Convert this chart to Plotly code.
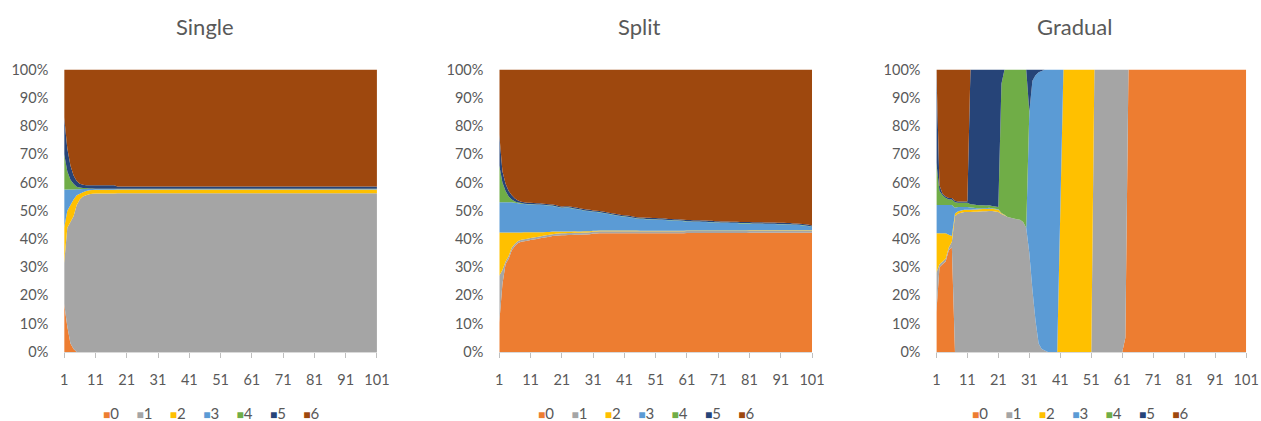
import plotly.graph_objects as go

# Generation index on the category axis
steps = list(range(1, 102))
tick_steps = [1, 11, 21, 31, 41, 51, 61, 71, 81, 91, 101]
pct_ticks = [0, 10, 20, 30, 40, 50, 60, 70, 80, 90, 100]
pct_labels = ["0%", "10%", "20%", "30%", "40%", "50%", "60%", "70%", "80%", "90%", "100%"]

series_names = ["0", "1", "2", "3", "4", "5", "6"]
series_colors = ["#ED7D31", "#A5A5A5", "#FFC000", "#5B9BD5", "#70AD47", "#264478", "#9E480E"]
panel_titles = ["Single", "Split", "Gradual"]

# ---------------- Single ----------------
single_0 = [17, 9, 3, 1, 0, 0, 0, 0, 0, 0,
            0, 0, 0, 0, 0, 0, 0, 0, 0, 0,
            0, 0, 0, 0, 0, 0, 0, 0, 0, 0,
            0, 0, 0, 0, 0, 0, 0, 0, 0, 0,
            0, 0, 0, 0, 0, 0, 0, 0, 0, 0,
            0, 0, 0, 0, 0, 0, 0, 0, 0, 0,
            0, 0, 0, 0, 0, 0, 0, 0, 0, 0,
            0, 0, 0, 0, 0, 0, 0, 0, 0, 0,
            0, 0, 0, 0, 0, 0, 0, 0, 0, 0,
            0, 0, 0, 0, 0, 0, 0, 0, 0, 0,
            0]
single_1 = [14.5, 35, 43, 47, 52, 54, 55, 55.5, 55.8, 56,
            56.1, 56.1, 56.1, 56.1, 56.1, 56.1, 56.1, 56.2, 56.2, 56.2,
            56.2, 56.2, 56.2, 56.2, 56.2, 56.2, 56.2, 56.2, 56.2, 56.2,
            56.2, 56.2, 56.2, 56.2, 56.2, 56.2, 56.2, 56.2, 56.2, 56.2,
            56.2, 56.2, 56.2, 56.2, 56.2, 56.2, 56.2, 56.2, 56.2, 56.2,
            56.2, 56.2, 56.2, 56.2, 56.2, 56.2, 56.2, 56.2, 56.2, 56.2,
            56.2, 56.2, 56.2, 56.2, 56.2, 56.2, 56.2, 56.2, 56.2, 56.2,
            56.2, 56.2, 56.2, 56.2, 56.2, 56.2, 56.2, 56.2, 56.2, 56.2,
            56.2, 56.2, 56.2, 56.2, 56.2, 56.2, 56.2, 56.2, 56.2, 56.2,
            56.2, 56.2, 56.2, 56.2, 56.2, 56.2, 56.2, 56.2, 56.2, 56.2,
            56.2]
single_2 = [12.5, 6, 6, 6, 3.5, 2, 1.5, 1.5, 1.4, 1.3,
            1.3, 1.3, 1.3, 1.3, 1.3, 1.3, 1.3, 1.3, 1.3, 1.3,
            1.3, 1.3, 1.3, 1.3, 1.3, 1.3, 1.3, 1.3, 1.3, 1.3,
            1.3, 1.3, 1.3, 1.3, 1.3, 1.3, 1.3, 1.3, 1.3, 1.3,
            1.3, 1.3, 1.3, 1.3, 1.3, 1.3, 1.3, 1.3, 1.3, 1.3,
            1.3, 1.3, 1.3, 1.3, 1.3, 1.3, 1.3, 1.3, 1.3, 1.3,
            1.3, 1.3, 1.3, 1.3, 1.3, 1.3, 1.3, 1.3, 1.3, 1.3,
            1.3, 1.3, 1.3, 1.3, 1.3, 1.3, 1.3, 1.3, 1.3, 1.3,
            1.3, 1.3, 1.3, 1.3, 1.3, 1.3, 1.3, 1.3, 1.3, 1.3,
            1.3, 1.3, 1.3, 1.3, 1.3, 1.3, 1.3, 1.3, 1.3, 1.3,
            1.3]
single_3 = [13.5, 7.5, 5.5, 3.5, 2.1, 1.6, 1.2, 0.7, 0.5, 0.4,
            0.3, 0.3, 0.3, 0.3, 0.3, 0.3, 0.3, 0.2, 0.2, 0.2,
            0.2, 0.2, 0.2, 0.2, 0.2, 0.2, 0.2, 0.2, 0.2, 0.2,
            0.2, 0.2, 0.2, 0.2, 0.2, 0.2, 0.2, 0.2, 0.2, 0.2,
            0.2, 0.2, 0.2, 0.2, 0.2, 0.2, 0.2, 0.2, 0.2, 0.2,
            0.2, 0.2, 0.2, 0.2, 0.2, 0.2, 0.2, 0.2, 0.2, 0.2,
            0.2, 0.2, 0.2, 0.2, 0.2, 0.2, 0.2, 0.2, 0.2, 0.2,
            0.2, 0.2, 0.2, 0.2, 0.2, 0.2, 0.2, 0.2, 0.2, 0.2,
            0.2, 0.2, 0.2, 0.2, 0.2, 0.2, 0.2, 0.2, 0.2, 0.2,
            0.2, 0.2, 0.2, 0.2, 0.2, 0.2, 0.2, 0.2, 0.2, 0.2,
            0.2]
single_4 = [12.5, 6.5, 3.5, 2, 0.9, 0.6, 0.3, 0.3, 0.2, 0.2,
            0.1, 0.1, 0.1, 0.1, 0.1, 0.1, 0.1, 0.1, 0.1, 0.1,
            0.1, 0.1, 0.1, 0.1, 0.1, 0.1, 0.1, 0.1, 0.1, 0.1,
            0.1, 0.1, 0.1, 0.1, 0.1, 0.1, 0.1, 0.1, 0.1, 0.1,
            0.1, 0.1, 0.1, 0.1, 0.1, 0.1, 0.1, 0.1, 0.1, 0.1,
            0.1, 0.1, 0.1, 0.1, 0.1, 0.1, 0.1, 0.1, 0.1, 0.1,
            0.1, 0.1, 0.1, 0.1, 0.1, 0.1, 0.1, 0.1, 0.1, 0.1,
            0.1, 0.1, 0.1, 0.1, 0.1, 0.1, 0.1, 0.1, 0.1, 0.1,
            0.1, 0.1, 0.1, 0.1, 0.1, 0.1, 0.1, 0.1, 0.1, 0.1,
            0.1, 0.1, 0.1, 0.1, 0.1, 0.1, 0.1, 0.1, 0.1, 0.1,
            0.1]
single_5 = [13, 8, 5, 3, 2, 1.3, 1.2, 1, 1.1, 1.1,
            1.2, 1.2, 1.2, 1.2, 1.2, 1.2, 1.2, 0.8, 0.8, 0.8,
            0.8, 0.8, 0.8, 0.8, 0.8, 0.8, 0.8, 0.8, 0.8, 0.8,
            0.8, 0.8, 0.8, 0.8, 0.8, 0.8, 0.8, 0.8, 0.8, 0.8,
            0.8, 0.8, 0.8, 0.8, 0.8, 0.8, 0.8, 0.8, 0.8, 0.8,
            0.8, 0.8, 0.8, 0.8, 0.8, 0.8, 0.8, 0.8, 0.8, 0.8,
            0.8, 0.8, 0.8, 0.8, 0.8, 0.8, 0.8, 0.8, 0.8, 0.8,
            0.8, 0.8, 0.8, 0.8, 0.8, 0.8, 0.8, 0.8, 0.8, 0.8,
            0.8, 0.8, 0.8, 0.8, 0.8, 0.8, 0.8, 0.8, 0.8, 0.8,
            0.8, 0.8, 0.8, 0.8, 0.8, 0.8, 0.8, 0.8, 0.8, 0.8,
            0.8]
single_6 = [17, 28, 34, 37.5, 39.5, 40.5, 40.8, 41, 41, 41,
            41, 41, 41, 41, 41, 41, 41, 41.4, 41.4, 41.4,
            41.4, 41.4, 41.4, 41.4, 41.4, 41.4, 41.4, 41.4, 41.4, 41.4,
            41.4, 41.4, 41.4, 41.4, 41.4, 41.4, 41.4, 41.4, 41.4, 41.4,
            41.4, 41.4, 41.4, 41.4, 41.4, 41.4, 41.4, 41.4, 41.4, 41.4,
            41.4, 41.4, 41.4, 41.4, 41.4, 41.4, 41.4, 41.4, 41.4, 41.4,
            41.4, 41.4, 41.4, 41.4, 41.4, 41.4, 41.4, 41.4, 41.4, 41.4,
            41.4, 41.4, 41.4, 41.4, 41.4, 41.4, 41.4, 41.4, 41.4, 41.4,
            41.4, 41.4, 41.4, 41.4, 41.4, 41.4, 41.4, 41.4, 41.4, 41.4,
            41.4, 41.4, 41.4, 41.4, 41.4, 41.4, 41.4, 41.4, 41.4, 41.4,
            41.4]

# ---------------- Split ----------------
split_0 = [10.4, 24, 31, 33, 36, 37.5, 38.6, 39, 39.2, 39.4,
           39.6, 39.8, 40, 40.2, 40.4, 40.6, 40.8, 41, 41.1, 41.2,
           41.3, 41.3, 41.4, 41.4, 41.5, 41.5, 41.5, 41.6, 41.6, 41.7,
           41.9, 41.9, 42, 42, 42, 42, 42, 42, 42, 42,
           42, 42, 42, 42, 42, 42, 42, 42, 42, 42,
           42, 42, 42, 42, 42, 42, 42, 42, 42, 42,
           42.1, 42.1, 42.1, 42.1, 42.1, 42.1, 42.1, 42.1, 42.1, 42.1,
           42.1, 42.1, 42.1, 42.1, 42.1, 42.1, 42.1, 42.1, 42.1, 42.1,
           42.2, 42.2, 42.2, 42.2, 42.2, 42.2, 42.2, 42.2, 42.2, 42.2,
           42.2, 42.2, 42.2, 42.2, 42.2, 42.2, 42.2, 42.2, 42.2, 42.2,
           42.2]
split_1 = [16.6, 5, 1, 1, 1, 0.8, 0.7, 0.7, 0.7, 0.7,
           0.7, 0.7, 0.7, 0.7, 0.7, 0.7, 0.7, 0.7, 0.7, 0.7,
           0.7, 0.7, 0.7, 0.7, 0.7, 0.7, 0.7, 0.7, 0.7, 0.7,
           0.7, 0.7, 0.7, 0.7, 0.7, 0.7, 0.7, 0.7, 0.7, 0.7,
           0.7, 0.7, 0.7, 0.7, 0.7, 0.7, 0.7, 0.7, 0.7, 0.7,
           0.7, 0.7, 0.7, 0.7, 0.7, 0.7, 0.7, 0.7, 0.7, 0.7,
           0.7, 0.7, 0.7, 0.7, 0.7, 0.7, 0.7, 0.7, 0.7, 0.7,
           0.7, 0.7, 0.7, 0.7, 0.7, 0.7, 0.7, 0.7, 0.7, 0.7,
           0.7, 0.7, 0.7, 0.7, 0.7, 0.7, 0.7, 0.7, 0.7, 0.7,
           0.7, 0.7, 0.7, 0.7, 0.7, 0.7, 0.7, 0.7, 0.7, 0.7,
           0.7]
split_2 = [15.3, 13.3, 10.3, 8.3, 5.3, 4, 3, 2.6, 2.5, 2.3,
           2.1, 1.9, 1.7, 1.5, 1.3, 1.2, 1.0, 0.9, 0.8, 0.7,
           0.6, 0.6, 0.5, 0.5, 0.5, 0.4, 0.4, 0.4, 0.4, 0.3,
           0.3, 0.3, 0.3, 0.3, 0.3, 0.3, 0.3, 0.3, 0.3, 0.3,
           0.3, 0.3, 0.3, 0.3, 0.3, 0.2, 0.2, 0.2, 0.2, 0.2,
           0.2, 0.2, 0.2, 0.2, 0.2, 0.2, 0.2, 0.2, 0.2, 0.2,
           0.2, 0.2, 0.2, 0.2, 0.2, 0.2, 0.2, 0.2, 0.2, 0.2,
           0.2, 0.2, 0.2, 0.2, 0.2, 0.2, 0.2, 0.2, 0.2, 0.2,
           0.2, 0.2, 0.2, 0.2, 0.2, 0.2, 0.2, 0.2, 0.2, 0.2,
           0.2, 0.2, 0.2, 0.2, 0.2, 0.2, 0.2, 0.2, 0.2, 0.2,
           0.2]
split_3 = [10.7, 10.7, 10.7, 10.7, 10.7, 10.5, 10.3, 10.2, 10.0, 9.9,
           9.9, 9.8, 9.7, 9.7, 9.6, 9.4, 9.3, 9.1, 8.9, 8.6,
           8.4, 8.5, 8.5, 8.3, 8.0, 7.9, 7.7, 7.4, 7.2, 7.1,
           6.7, 6.6, 6.4, 6.2, 6.0, 5.8, 5.6, 5.4, 5.2, 5.0,
           4.9, 4.8, 4.6, 4.4, 4.2, 4.2, 4.2, 4.1, 4.1, 4.0,
           4.0, 3.9, 3.9, 3.8, 3.7, 3.7, 3.6, 3.6, 3.5, 3.4,
           3.2, 3.2, 3.1, 3.1, 3.1, 3.0, 3.0, 2.9, 2.9, 2.8,
           2.8, 2.7, 2.7, 2.7, 2.6, 2.6, 2.6, 2.5, 2.5, 2.5,
           2.4, 2.3, 2.3, 2.3, 2.3, 2.2, 2.2, 2.2, 2.2, 2.1,
           2.1, 2.1, 2.0, 2.0, 1.9, 1.9, 1.8, 1.7, 1.6, 1.4,
           1.2]
split_4 = [13, 7, 4, 2, 1, 0.5, 0.3, 0.2, 0.1, 0.1,
           0.1, 0.1, 0.1, 0.1, 0.1, 0.1, 0.1, 0.1, 0.1, 0.1,
           0.1, 0.1, 0.1, 0.1, 0.1, 0.1, 0.1, 0.1, 0.1, 0.1,
           0.1, 0.1, 0.1, 0.1, 0.1, 0.1, 0.1, 0.1, 0.1, 0.1,
           0.1, 0.1, 0.1, 0.1, 0.1, 0.1, 0.1, 0.1, 0.1, 0.1,
           0.1, 0.1, 0.1, 0.1, 0.1, 0.1, 0.1, 0.1, 0.1, 0.1,
           0.1, 0.1, 0.1, 0.1, 0.1, 0.1, 0.1, 0.1, 0.1, 0.1,
           0.1, 0.1, 0.1, 0.1, 0.1, 0.1, 0.1, 0.1, 0.1, 0.1,
           0.1, 0.1, 0.1, 0.1, 0.1, 0.1, 0.1, 0.1, 0.1, 0.1,
           0.1, 0.1, 0.1, 0.1, 0.1, 0.1, 0.1, 0.1, 0.1, 0.1,
           0.1]
split_5 = [11, 4, 2.5, 2, 1.5, 1, 0.7, 0.5, 0.5, 0.4,
           0.4, 0.4, 0.4, 0.4, 0.4, 0.4, 0.4, 0.4, 0.4, 0.4,
           0.4, 0.4, 0.4, 0.4, 0.4, 0.4, 0.4, 0.4, 0.4, 0.4,
           0.4, 0.4, 0.4, 0.4, 0.4, 0.4, 0.4, 0.4, 0.4, 0.4,
           0.4, 0.4, 0.4, 0.4, 0.4, 0.4, 0.4, 0.4, 0.4, 0.4,
           0.4, 0.4, 0.4, 0.4, 0.4, 0.4, 0.4, 0.4, 0.4, 0.4,
           0.4, 0.4, 0.4, 0.4, 0.4, 0.4, 0.4, 0.4, 0.4, 0.4,
           0.4, 0.4, 0.4, 0.4, 0.4, 0.4, 0.4, 0.4, 0.4, 0.4,
           0.4, 0.4, 0.4, 0.4, 0.4, 0.4, 0.4, 0.4, 0.4, 0.4,
           0.4, 0.4, 0.4, 0.4, 0.4, 0.4, 0.4, 0.4, 0.4, 0.4,
           0.4]
split_6 = [23, 36, 40.5, 43, 44.5, 45.7, 46.4, 46.8, 47.0, 47.2,
           47.2, 47.3, 47.4, 47.4, 47.5, 47.6, 47.7, 47.8, 48.0, 48.3,
           48.5, 48.4, 48.4, 48.6, 48.8, 49.0, 49.2, 49.4, 49.6, 49.7,
           49.9, 50.0, 50.1, 50.3, 50.5, 50.7, 50.9, 51.1, 51.3, 51.5,
           51.6, 51.7, 51.9, 52.1, 52.3, 52.4, 52.4, 52.5, 52.5, 52.6,
           52.6, 52.7, 52.7, 52.8, 52.9, 52.9, 53.0, 53.0, 53.1, 53.2,
           53.3, 53.3, 53.4, 53.4, 53.4, 53.5, 53.5, 53.6, 53.6, 53.7,
           53.7, 53.8, 53.8, 53.8, 53.9, 53.9, 53.9, 54.0, 54.0, 54.0,
           54.0, 54.1, 54.1, 54.1, 54.1, 54.2, 54.2, 54.2, 54.2, 54.3,
           54.3, 54.3, 54.4, 54.4, 54.5, 54.5, 54.6, 54.7, 54.8, 55.0,
           55.2]

# ---------------- Gradual ----------------
gradual_0 = [14, 30, 31, 32, 36, 37, 0, 0, 0, 0,
             0, 0, 0, 0, 0, 0, 0, 0, 0, 0,
             0, 0, 0, 0, 0, 0, 0, 0, 0, 0,
             0, 0, 0, 0, 0, 0, 0, 0, 0, 0,
             0, 0, 0, 0, 0, 0, 0, 0, 0, 0,
             0, 0, 0, 0, 0, 0, 0, 0, 0, 0,
             0, 5, 100, 100, 100, 100, 100, 100, 100, 100,
             100, 100, 100, 100, 100, 100, 100, 100, 100, 100,
             100, 100, 100, 100, 100, 100, 100, 100, 100, 100,
             100, 100, 100, 100, 100, 100, 100, 100, 100, 100,
             100]
gradual_1 = [14, 1, 1, 1, 1, 2, 48, 49, 49.3, 49.5,
             49.5, 49.5, 49.6, 49.6, 49.7, 49.8, 49.8, 49.9, 49.9, 49.7,
             49.5, 48.8, 48.3, 47.8, 47.5, 47.2, 47.0, 46.8, 46.0, 44.0,
             35, 22, 11, 3, 1, 0.5, 0, 0, 0, 0,
             0, 0, 0, 0, 0, 0, 0, 0, 0, 0,
             0, 100, 100, 100, 100, 100, 100, 100, 100, 100,
             100, 95, 0, 0, 0, 0, 0, 0, 0, 0,
             0, 0, 0, 0, 0, 0, 0, 0, 0, 0,
             0, 0, 0, 0, 0, 0, 0, 0, 0, 0,
             0, 0, 0, 0, 0, 0, 0, 0, 0, 0,
             0]
gradual_2 = [14, 11, 10, 9, 4.5, 2, 1, 0.8, 0.8, 0.8,
             0.8, 0.8, 0.8, 0.8, 0.8, 0.8, 0.8, 0.8, 0.8, 0.8,
             0.8, 0.3, 0.2, 0, 0, 0, 0, 0, 0, 0,
             0, 0, 0, 0, 0, 0, 0, 0, 0, 0,
             50, 100, 100, 100, 100, 100, 100, 100, 100, 100,
             100, 0, 0, 0, 0, 0, 0, 0, 0, 0,
             0, 0, 0, 0, 0, 0, 0, 0, 0, 0,
             0, 0, 0, 0, 0, 0, 0, 0, 0, 0,
             0, 0, 0, 0, 0, 0, 0, 0, 0, 0,
             0, 0, 0, 0, 0, 0, 0, 0, 0, 0,
             0]
gradual_3 = [10, 10, 10, 10, 10.5, 11, 2, 1.5, 1.2, 1,
             1, 0.8, 0.6, 0.5, 0.4, 0.3, 0.3, 0.3, 0.2, 0.2,
             0.2, 0.1, 0.1, 0, 0, 0, 0, 0, 0, 0,
             50, 74, 87, 96, 98.5, 99.5, 100, 100, 100, 100,
             50, 0, 0, 0, 0, 0, 0, 0, 0, 0,
             0, 0, 0, 0, 0, 0, 0, 0, 0, 0,
             0, 0, 0, 0, 0, 0, 0, 0, 0, 0,
             0, 0, 0, 0, 0, 0, 0, 0, 0, 0,
             0, 0, 0, 0, 0, 0, 0, 0, 0, 0,
             0, 0, 0, 0, 0, 0, 0, 0, 0, 0,
             0]
gradual_4 = [15, 5, 3.5, 2.5, 2, 2, 2, 1.5, 1.5, 1.5,
             1.5, 1.2, 1.2, 1.1, 1.0, 1.0, 0.9, 0.9, 0.8, 0.8,
             0.8, 45.8, 51.4, 52.2, 52.5, 52.8, 53.0, 53.2, 54.0, 56.0,
             0, 0, 0, 0, 0, 0, 0, 0, 0, 0,
             0, 0, 0, 0, 0, 0, 0, 0, 0, 0,
             0, 0, 0, 0, 0, 0, 0, 0, 0, 0,
             0, 0, 0, 0, 0, 0, 0, 0, 0, 0,
             0, 0, 0, 0, 0, 0, 0, 0, 0, 0,
             0, 0, 0, 0, 0, 0, 0, 0, 0, 0,
             0, 0, 0, 0, 0, 0, 0, 0, 0, 0,
             0]
gradual_5 = [33, 2, 0.5, 0.5, 0.5, 0.5, 0.5, 0.5, 0.5, 0.5,
             0.5, 47.7, 47.8, 48.0, 48.1, 48.1, 48.2, 48.1, 48.3, 48.5,
             48.7, 5, 0, 0, 0, 0, 0, 0, 0, 0,
             15, 4, 2, 1, 0.5, 0, 0, 0, 0, 0,
             0, 0, 0, 0, 0, 0, 0, 0, 0, 0,
             0, 0, 0, 0, 0, 0, 0, 0, 0, 0,
             0, 0, 0, 0, 0, 0, 0, 0, 0, 0,
             0, 0, 0, 0, 0, 0, 0, 0, 0, 0,
             0, 0, 0, 0, 0, 0, 0, 0, 0, 0,
             0, 0, 0, 0, 0, 0, 0, 0, 0, 0,
             0]
gradual_6 = [0, 41, 44, 45, 45.5, 45.5, 46.5, 46.7, 46.7, 46.7,
             46.7, 0, 0, 0, 0, 0, 0, 0, 0, 0,
             0, 0, 0, 0, 0, 0, 0, 0, 0, 0,
             0, 0, 0, 0, 0, 0, 0, 0, 0, 0,
             0, 0, 0, 0, 0, 0, 0, 0, 0, 0,
             0, 0, 0, 0, 0, 0, 0, 0, 0, 0,
             0, 0, 0, 0, 0, 0, 0, 0, 0, 0,
             0, 0, 0, 0, 0, 0, 0, 0, 0, 0,
             0, 0, 0, 0, 0, 0, 0, 0, 0, 0,
             0, 0, 0, 0, 0, 0, 0, 0, 0, 0,
             0]

panels = [
    [single_0, single_1, single_2, single_3, single_4, single_5, single_6],
    [split_0, split_1, split_2, split_3, split_4, split_5, split_6],
    [gradual_0, gradual_1, gradual_2, gradual_3, gradual_4, gradual_5, gradual_6],
]

# ---------------- layout geometry (figure pixels) ----------------
W, H = 1273, 430
plot_left = [61, 502, 945]
plot_right = [378, 819, 1259]
plot_top, plot_bottom = 63, 357
title_x = [204, 644, 1085]
title_y = 18
legend_x = [210, 651, 1091]
legend_y = 421

TEXT = "#595959"
FONT = "Lato, 'Open Sans', sans-serif"

fig = go.Figure()

for p, series in enumerate(panels):
    suffix = "" if p == 0 else str(p + 1)
    for k, vals in enumerate(series):
        fig.add_trace(go.Scatter(
            x=steps, y=vals,
            name=series_names[k],
            mode="none",
            stackgroup=f"panel{p}",
            groupnorm="percent" if k == 0 else None,
            fillcolor=series_colors[k],
            xaxis="x" + suffix, yaxis="y" + suffix,
            showlegend=False,
            hoverinfo="skip",
        ))

    x_dom = [plot_left[p] / W, plot_right[p] / W]
    y_dom = [(H - plot_bottom) / H, (H - plot_top) / H]
    fig.layout["xaxis" + suffix] = dict(
        domain=x_dom, range=[1, 101], anchor="y" + suffix,
        tickvals=tick_steps, ticktext=[str(t) for t in tick_steps],
        ticks="outside", ticklen=5, tickcolor="#BFBFBF",
        showline=True, linecolor="#D9D9D9", linewidth=1,
        showgrid=False, zeroline=False,
        tickfont=dict(family=FONT, size=14.5, color=TEXT),
        ticklabelstandoff=10,
    )
    fig.layout["yaxis" + suffix] = dict(
        domain=y_dom, range=[0, 100], anchor="x" + suffix,
        tickvals=pct_ticks, ticktext=pct_labels,
        ticks="outside", ticklen=12, tickcolor="rgba(0,0,0,0)",
        showline=False, showgrid=False, zeroline=False,
        tickfont=dict(family=FONT, size=14.5, color=TEXT),
    )

    fig.add_annotation(
        text=panel_titles[p], xref="paper", yref="paper",
        x=title_x[p] / W, y=(H - title_y) / H, xanchor="center", yanchor="middle",
        showarrow=False, font=dict(family=FONT, size=22, color=TEXT),
    )

    gap = "&nbsp;&nbsp;&nbsp;&nbsp;<span style='font-size:8px'>&nbsp;</span>"
    legend_text = gap.join(
        f"<span style='color:{series_colors[k]};font-size:12px'>■</span>{series_names[k]}"
        for k in range(len(series_names))
    )
    fig.add_annotation(
        text=legend_text, xref="paper", yref="paper",
        x=legend_x[p] / W, y=(H - legend_y) / H, xanchor="center", yanchor="middle",
        showarrow=False, font=dict(family=FONT, size=15, color=TEXT),
    )

fig.update_layout(
    width=W, height=H,
    margin=dict(l=0, r=0, t=0, b=0),
    paper_bgcolor="white", plot_bgcolor="white",
    showlegend=False,
)

fig.write_html("out.html")
